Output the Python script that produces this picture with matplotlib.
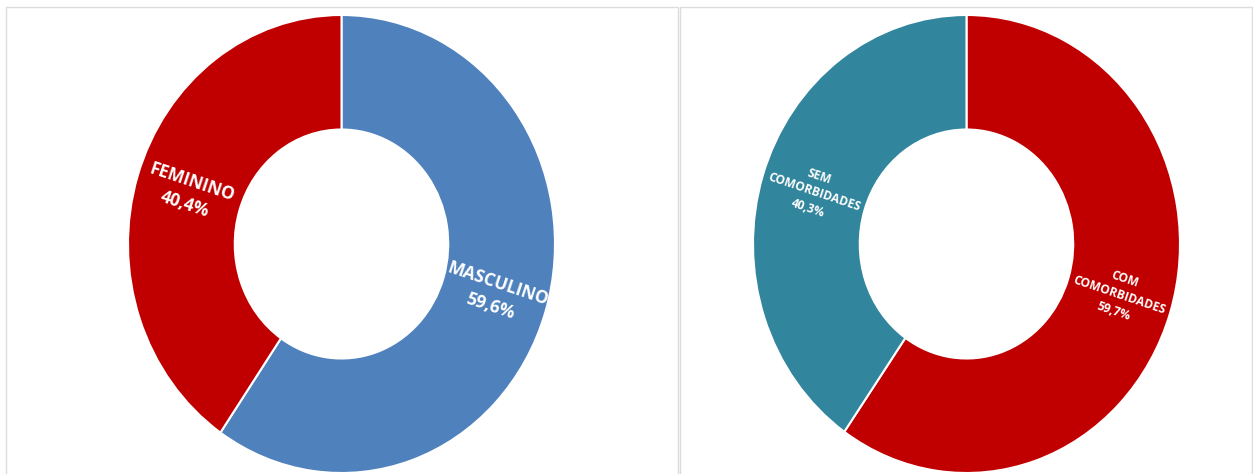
import numpy as np
import matplotlib
matplotlib.use("Agg")
import matplotlib.pyplot as plt
from matplotlib.patches import Rectangle

# data
sexo_labels = ["MASCULINO", "FEMININO"]
sexo_values = [59.6, 40.4]
sexo_colors = ["#4F81BD", "#C00000"]

comorb_labels = ["COM\nCOMORBIDADES", "SEM\nCOMORBIDADES"]
comorb_values = [59.7, 40.3]
comorb_colors = ["#C00000", "#31859C"]

W, H = 1253, 474
fig = plt.figure(figsize=(W / 100, H / 100), dpi=100)
fig.patch.set_facecolor("white")

# panel borders
for x0, x1 in [(6, 678), (680, 1252)]:
    fig.add_artist(Rectangle((x0 / W, -0.1), (x1 - x0) / W, (H - 7) / H + 0.1,
                             transform=fig.transFigure, fill=False,
                             edgecolor="#DCDCDC", linewidth=1.0))


def donut(cx, values, labels, colors, fsize, lsp):
    rx, ry = 213.5, 229
    cy = 244
    ax = fig.add_axes([(cx - rx) / W, (H - cy - ry) / H, 2 * rx / W, 2 * ry / H])
    wedges, _ = ax.pie(values, colors=colors, startangle=90, counterclock=False,
                       radius=1.0, wedgeprops=dict(width=0.5, edgecolor="white", linewidth=1.5))
    ax.set_aspect("auto")
    ax.set_xlim(-1, 1)
    ax.set_ylim(-1, 1)
    ax.axis("off")
    for w, lab, v in zip(wedges, labels, values):
        mid = (w.theta1 + w.theta2) / 2
        a = np.deg2rad(mid)
        x, y = 0.75 * np.cos(a), 0.75 * np.sin(a)
        # angle in display space (axes are slightly stretched)
        ang = np.degrees(np.arctan2(np.sin(a) * ry, np.cos(a) * rx))
        rot = ang - 180 if np.cos(a) < 0 else ang
        txt = lab + "\n" + f"{v:.1f}".replace(".", ",") + "%"
        ax.text(x, y, txt, ha="center", va="center", rotation=rot,
                rotation_mode="anchor", color="white", fontsize=fsize,
                fontweight="bold", family="Open Sans", linespacing=lsp)
    return ax


donut(341.5, sexo_values, sexo_labels, sexo_colors, 12.5, 1.4)
donut(966.5, comorb_values, comorb_labels, comorb_colors, 8.6, 1.4)

fig.savefig("out.png", dpi=100, facecolor="white")
